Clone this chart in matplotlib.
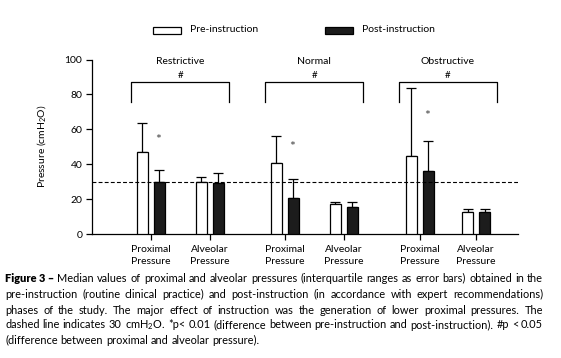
import numpy as np
import matplotlib
matplotlib.use("Agg")
import matplotlib.pyplot as plt
from matplotlib.patches import Rectangle

plt.rcParams['font.family'] = ['Lato', 'DejaVu Sans']
plt.rcParams['mathtext.default'] = 'regular'

groups = ['Restrictive', 'Normal', 'Obstructive']
xlabels = ['Proximal\nPressure', 'Alveolar\nPressure'] * 3
pre_median = [46.8, 30.0, 40.5, 17.0, 44.7, 12.4]
pre_q3 = [63.4, 32.5, 56.2, 18.2, 83.8, 14.1]
post_median = [30.0, 29.4, 20.4, 15.3, 36.1, 12.4]
post_q3 = [36.7, 34.8, 31.3, 18.2, 53.5, 14.1]
star_y = [57.7, 53.9, 71.5]
caption = [
    "Median values of proximal and alveolar pressures (interquartile ranges as error bars) obtained in the",
    "pre-instruction (routine clinical practice) and post-instruction (in accordance with expert recommendations)",
    "phases of the study. The major effect of instruction was the generation of lower proximal pressures. The",
    "dashed line indicates 30 cmH$_2$O. *p< 0.01 (difference between pre-instruction and post-instruction). #p < 0.05",
    "(difference between proximal and alveolar pressure).",
]

W, H = 561, 358
fig = plt.figure(figsize=(W / 100, H / 100), dpi=100)
ax = fig.add_axes([92 / W, 1 - 234 / H, (518 - 92) / W, (234 - 59.5) / H])

xpos = np.array([1, 2, 3.27, 4.27, 5.56, 6.52])
off = 0.145
bw = 0.186
pre_med = np.array(pre_median)
post_med = np.array(post_median)

ax.bar(xpos - off, pre_med, bw, color='white', edgecolor='black', lw=0.9, zorder=3)
ax.bar(xpos + off, post_med, bw, color='#1c1c1c', edgecolor='black', lw=0.9, zorder=3)
ax.errorbar(xpos - off, pre_med, yerr=[np.zeros(6), np.array(pre_q3) - pre_med],
            fmt='none', ecolor='black', elinewidth=0.9, capsize=3.5, capthick=0.9, zorder=2)
ax.errorbar(xpos + off, post_med, yerr=[np.zeros(6), np.array(post_q3) - post_med],
            fmt='none', ecolor='black', elinewidth=0.9, capsize=3.5, capthick=0.9, zorder=2)

ax.axhline(30, color='black', lw=0.8, ls=(0, (3.5, 2)), zorder=4)

ax.set_xlim(0, 7.23)
ax.set_ylim(0, 100)
ax.set_yticks(np.arange(0, 101, 20))
ax.set_xticks(xpos)
ax.set_xticklabels(xlabels, fontsize=7.5, linespacing=1.45)
ax.tick_params(axis='both', direction='out', length=4, width=0.9, labelsize=7.5, pad=3)
ax.tick_params(axis='x', pad=4)
for s in ['top', 'right']:
    ax.spines[s].set_visible(False)
for s in ['left', 'bottom']:
    ax.spines[s].set_linewidth(0.9)
ax.set_ylabel('Pressure (cmH$_2$O)', fontsize=7.5, labelpad=12)

# group brackets, titles and significance marks
for g, name in enumerate(groups):
    c = (xpos[2 * g] + xpos[2 * g + 1]) / 2
    half = 0.83
    ax.plot([c - half, c - half, c + half, c + half], [75.8, 86.9, 86.9, 75.8],
            color='black', lw=0.9, clip_on=False)
    ax.text(c, 91, '#', ha='center', va='center', fontsize=7)
    ax.text(c, 99, name, ha='center', va='center', fontsize=7.5)
    ax.text(xpos[2 * g] + 0.08, star_y[g] - 4, '*', ha='left', va='center', fontsize=10, color='#444444')

# legend
def fx(px):
    return px / W

def fy(py):
    return 1 - py / H

for x0, fc, lab in [(153, 'white', 'Pre-instruction'), (325, '#1c1c1c', 'Post-instruction')]:
    fig.add_artist(Rectangle((fx(x0), fy(33.5)), 28 / W, 7 / H, transform=fig.transFigure,
                             facecolor=fc, edgecolor='black', lw=0.9))
    fig.text(fx(x0 + 37), fy(30), lab, ha='left', va='center', fontsize=7.5)

# caption, justified between two margins
fig.canvas.draw()
renderer = fig.canvas.get_renderer()
left, right = 5, 543
line_y = [278, 294, 310, 325, 340]
for i, line in enumerate(caption):
    words = line.split(' ')
    arts = []
    if i == 0:
        words = ['Figure 3 \u2013'] + words
    for j, w in enumerate(words):
        t = fig.text(0, fy(line_y[i]), w, ha='left', va='center', fontsize=7.9,
                     fontweight='heavy' if (i == 0 and j == 0) else 'normal')
        arts.append(t)
    widths = [a.get_window_extent(renderer).width for a in arts]
    if i < len(caption) - 1:
        gap = (right - left - sum(widths)) / (len(arts) - 1)
    else:
        gap = 2.9
    x = left
    for a, w in zip(arts, widths):
        a.set_x(fx(x))
        x += w + gap

fig.savefig('out.png', dpi=100)
